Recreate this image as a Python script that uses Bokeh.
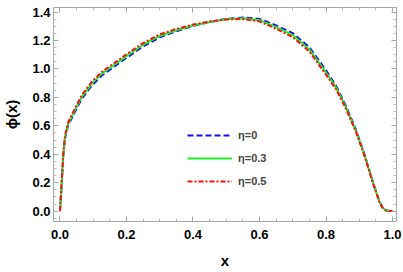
from bokeh.plotting import figure
from bokeh.models import LinearAxis, Range1d, FixedTicker, Legend, LegendItem, PrintfTickFormatter
from bokeh.embed import file_html
from bokeh.resources import INLINE

# data
xs = [0, 0.005, 0.01, 0.015, 0.025, 0.045, 0.065, 0.095, 0.125, 0.155, 0.2, 0.25, 0.3,
      0.35, 0.4, 0.45, 0.5, 0.55, 0.6, 0.65, 0.7, 0.75, 0.8, 0.83, 0.86, 0.89, 0.915,
      0.94, 0.96, 0.97, 0.98, 0.99, 1.0]
phi_eta0 = [0, 0.18, 0.39, 0.51, 0.605, 0.698, 0.788, 0.882, 0.952, 1.002, 1.078, 1.158,
            1.222, 1.265, 1.302, 1.33, 1.352, 1.362, 1.352, 1.306, 1.252, 1.152, 0.99,
            0.882, 0.74, 0.572, 0.405, 0.213, 0.072, 0.026, 0.006, 0.001, 0]
phi_eta03 = [0, 0.19, 0.40, 0.52, 0.615, 0.71, 0.80, 0.895, 0.965, 1.015, 1.09, 1.17,
             1.232, 1.272, 1.306, 1.33, 1.35, 1.357, 1.343, 1.294, 1.238, 1.137, 0.975,
             0.87, 0.73, 0.565, 0.40, 0.21, 0.07, 0.025, 0.006, 0.001, 0]
phi_eta05 = [0, 0.2, 0.41, 0.53, 0.627, 0.722, 0.813, 0.908, 0.978, 1.028, 1.103, 1.182,
             1.243, 1.281, 1.312, 1.333, 1.348, 1.351, 1.334, 1.282, 1.224, 1.122, 0.96,
             0.858, 0.72, 0.557, 0.394, 0.206, 0.068, 0.024, 0.005, 0.001, 0]
labels = ["η=0", "η=0.3", "η=0.5"]

x_major = [0.0, 0.2, 0.4, 0.6, 0.8, 1.0]
x_minor = [0.05, 0.1, 0.15, 0.25, 0.3, 0.35, 0.45, 0.5, 0.55, 0.65, 0.7, 0.75, 0.85, 0.9, 0.95]
y_major = [0.0, 0.2, 0.4, 0.6, 0.8, 1.0, 1.2, 1.4]
y_minor = [-0.05, 0.05, 0.1, 0.15, 0.25, 0.3, 0.35, 0.45, 0.5, 0.55, 0.65, 0.7, 0.75,
           0.85, 0.9, 0.95, 1.05, 1.1, 1.15, 1.25, 1.3, 1.35]

FONT = "Liberation Sans"
GRAY = "#a6a6a6"

p = figure(width=403, height=272, output_backend="svg", toolbar_location=None,
           x_range=Range1d(-0.0195, 1.012), y_range=Range1d(-0.073, 1.432),
           min_border_left=52, min_border_right=7, min_border_top=7, min_border_bottom=51,
           x_axis_location=None, y_axis_location=None)
p.grid.visible = False
p.outline_line_color = None
p.background_fill_color = "white"
p.border_fill_color = "white"


def style(ax, major, minor, show):
    ax.ticker = FixedTicker(ticks=major, minor_ticks=minor)
    ax.formatter = PrintfTickFormatter(format="%.1f")
    ax.axis_line_color = GRAY
    ax.axis_line_width = 1
    ax.major_tick_line_color = GRAY
    ax.minor_tick_line_color = "#bdbdbd"
    ax.major_tick_in = 5
    ax.major_tick_out = 0
    ax.minor_tick_in = 3
    ax.minor_tick_out = 0
    ax.major_label_text_font = FONT
    ax.major_label_text_font_style = "bold"
    ax.major_label_text_color = "black"
    ax.axis_label_text_font = FONT
    ax.axis_label_text_font_style = "bold"
    ax.axis_label_text_color = "black"
    if show:
        ax.major_label_text_font_size = "13px"
        ax.axis_label_text_font_size = "15px"
    else:
        ax.major_label_text_font_size = "1px"
        ax.major_label_text_color = None
        ax.major_label_standoff = 0


bx = LinearAxis(axis_label="x")
style(bx, x_major, x_minor, True)
bx.major_label_standoff = 8
bx.axis_label_standoff = 10
p.add_layout(bx, "below")

ly = LinearAxis(axis_label="ϕ(x)")
style(ly, y_major, y_minor, True)
ly.major_label_standoff = 3
ly.axis_label_standoff = 9
p.add_layout(ly, "left")

tx = LinearAxis()
style(tx, x_major, x_minor, False)
p.add_layout(tx, "above")

ry = LinearAxis()
style(ry, y_major, y_minor, False)
p.add_layout(ry, "right")

r0 = p.line(xs, phi_eta0, line_color="#1010ff", line_width=2, line_dash="6 3")
r1 = p.line(xs, phi_eta03, line_color="#22ee22", line_width=2)
r2 = p.line(xs, phi_eta05, line_color="#ff1010", line_width=2, line_dash="5 2 2 2")

legend = Legend(items=[LegendItem(label=labels[0], renderers=[r0]),
                       LegendItem(label=labels[1], renderers=[r1]),
                       LegendItem(label=labels[2], renderers=[r2])],
                location=(134, 30))
legend.border_line_alpha = 0
legend.background_fill_alpha = 0
legend.padding = 0
legend.margin = 0
legend.spacing = 3
legend.glyph_width = 45
legend.glyph_height = 20
legend.label_height = 20
legend.label_standoff = 6
legend.label_text_font = FONT
legend.label_text_font_style = "bold"
legend.label_text_font_size = "11px"
p.add_layout(legend)

open("out.html", "w").write(file_html(p, INLINE))
